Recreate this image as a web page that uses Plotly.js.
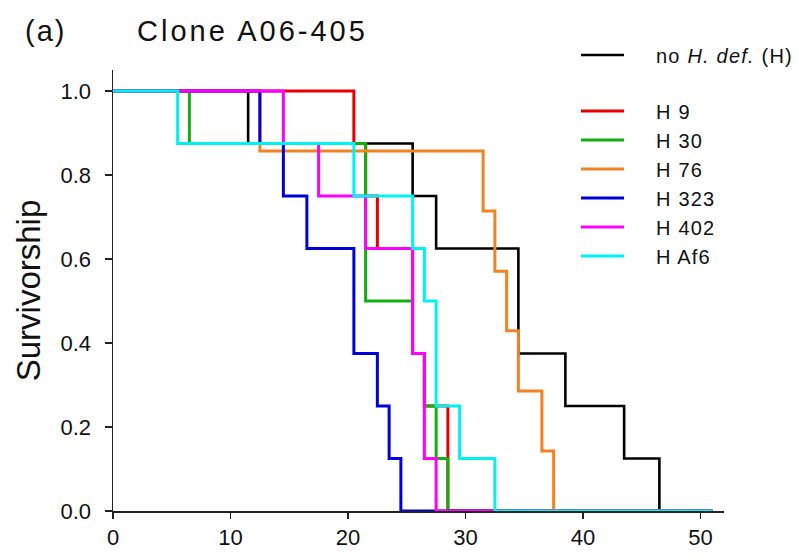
<!DOCTYPE html>
<html>
<head>
<meta charset="utf-8">
<script src="https://cdn.plot.ly/plotly-3.0.1.min.js"></script>
<style>
html,body{margin:0;padding:0;background:#fff;}
#chart .gtitle { letter-spacing: 3px; }
#chart .annotation-text { letter-spacing: 2px; }
#chart .legendtext { letter-spacing: 1.2px; }
#chart g.legend g.scrollbox { clip-path: none !important; }
</style>
</head>
<body>
<div id="chart" style="width:799px;height:560px;"></div>
<script>
// Series names (legend order)
const seriesNames = ['no <i>H. def.</i> (H)', 'H 9', 'H 30', 'H 76', 'H 323', 'H 402', 'H Af6'];
const seriesColors = ['#000000', '#e80000', '#10b010', '#f58220', '#0000dd', '#ff00ff', '#00f2f2'];

// Kaplan–Meier step data: time (days) and survivorship after each step
const timeNoHdef = [0, 11.5, 25.5, 27.5, 34.5, 38.5, 43.5, 46.5, 51];
const survNoHdef = [1, 0.875, 0.75, 0.625, 0.375, 0.25, 0.125, 0, 0];

const timeH9 = [0, 20.5, 21.5, 22.5, 25.5, 26.5, 28.5, 51];
const survH9 = [1, 0.875, 0.75, 0.625, 0.375, 0.25, 0, 0];

const timeH30 = [0, 6.5, 21.5, 25.5, 26.5, 27.5, 28.5, 51];
const survH30 = [1, 0.875, 0.5, 0.375, 0.25, 0.125, 0, 0];

const timeH76 = [0, 12.5, 31.5, 32.5, 33.5, 34.5, 36.5, 37.5, 51];
const survH76 = [1, 0.857, 0.714, 0.571, 0.429, 0.286, 0.143, 0, 0];

const timeH323 = [0, 12.5, 14.5, 16.5, 20.5, 22.5, 23.5, 24.5, 51];
const survH323 = [1, 0.875, 0.75, 0.625, 0.375, 0.25, 0.125, 0, 0];

const timeH402 = [0, 14.5, 17.5, 21.5, 25.5, 26.5, 27.5, 51];
const survH402 = [1, 0.875, 0.75, 0.625, 0.375, 0.125, 0, 0];

const timeHAf6 = [0, 5.5, 20.5, 25.5, 26.5, 27.5, 29.5, 32.5, 51];
const survHAf6 = [1, 0.875, 0.75, 0.625, 0.5, 0.25, 0.125, 0, 0];

const xTickVals = [0, 10, 20, 30, 40, 50];
const yTickVals = [0, 0.2, 0.4, 0.6, 0.8, 1.0];
const yTickText = ['0.0', '0.2', '0.4', '0.6', '0.8', '1.0'];

const allTimes = [timeNoHdef, timeH9, timeH30, timeH76, timeH323, timeH402, timeHAf6];
const allSurv = [survNoHdef, survH9, survH30, survH76, survH323, survH402, survHAf6];

const FONT = 'Liberation Sans, Arial, sans-serif';
const PAD = '\u00a0\u00a0\u00a0\u00a0';

const traces = allTimes.map((t, i) => ({
  type: 'scatter',
  mode: 'lines',
  x: t,
  y: allSurv[i],
  name: PAD + seriesNames[i],
  line: {shape: 'hv', color: seriesColors[i], width: i === 0 ? 2.6 : 3},
  legendgroup: i === 0 ? 'ref' : 'trt',
  hoverinfo: 'skip'
}));

const layout = {
  width: 799,
  height: 560,
  paper_bgcolor: '#ffffff',
  plot_bgcolor: '#ffffff',
  margin: {l: 113, r: 75, t: 70, b: 49, pad: 0},
  font: {family: FONT, color: '#111'},
  title: {
    text: 'Clone A06-405',
    font: {family: FONT, size: 29, color: '#111'},
    x: 137 / 799, xanchor: 'left', xref: 'container',
    y: 1 - 31 / 560, yanchor: 'middle', yref: 'container'
  },
  annotations: [{
    text: '(a)', showarrow: false,
    xref: 'paper', yref: 'paper',
    x: (26 - 113) / 611, xanchor: 'left',
    y: (510.7 - 31) / 440.7, yanchor: 'middle',
    font: {family: FONT, size: 29, color: '#111'}
  }],
  xaxis: {
    range: [0, 52],
    tickvals: xTickVals,
    ticks: 'outside', ticklen: 6, tickwidth: 1.5, tickcolor: '#222',
    showline: true, linecolor: '#222', linewidth: 1.5,
    showgrid: false, zeroline: false,
    tickfont: {family: FONT, size: 22, color: '#111'},
    ticklabelstandoff: 0,
    fixedrange: true
  },
  yaxis: {
    range: [0, 1.05],
    tickvals: yTickVals,
    ticktext: yTickText,
    ticks: 'outside', ticklen: 7, tickwidth: 1.5, tickcolor: '#222',
    showline: true, linecolor: '#222', linewidth: 1.5,
    showgrid: false, zeroline: false,
    tickfont: {family: FONT, size: 22, color: '#111'},
    ticklabelstandoff: 9,
    title: {text: 'Survivorship', font: {family: FONT, size: 33, color: '#111'}, standoff: 10},
    fixedrange: true
  },
  showlegend: true,
  legend: {
    x: (576 - 113) / 611, xanchor: 'left',
    y: (510.7 - 35.5) / 440.7, yanchor: 'top',
    traceorder: 'grouped',
    tracegroupgap: 27,
    itemwidth: 43,
    bgcolor: 'rgba(0,0,0,0)',
    borderwidth: 0,
    font: {family: FONT, size: 20, color: '#111'}
  }
};

Plotly.newPlot('chart', traces, layout, {staticPlot: true, displayModeBar: false});
</script>
</body>
</html>
